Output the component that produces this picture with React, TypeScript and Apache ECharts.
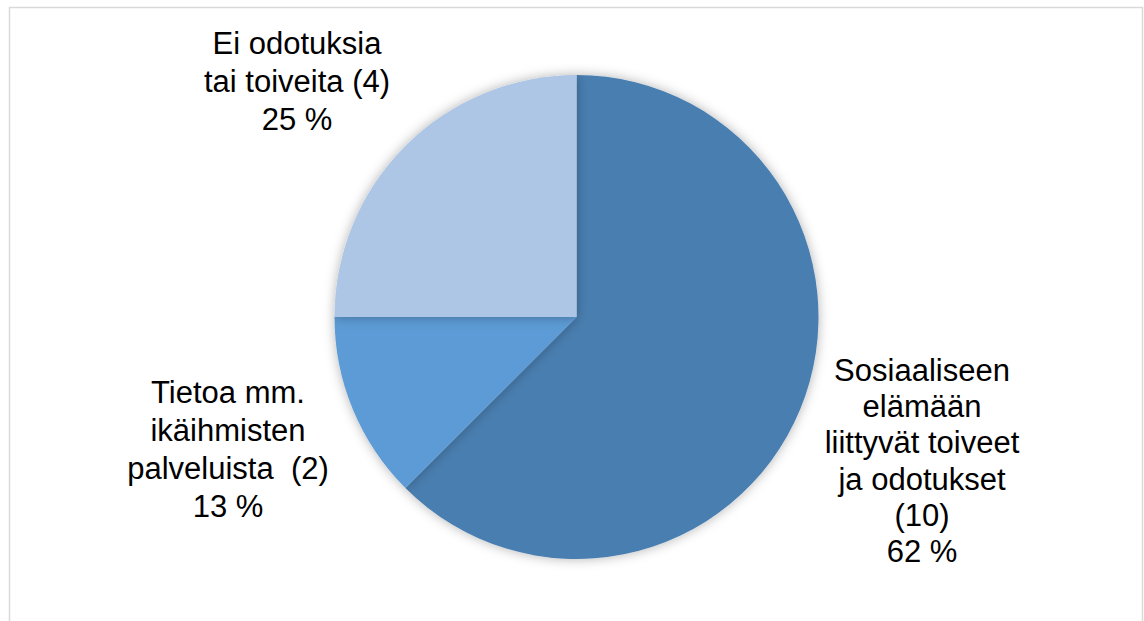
import React, { useEffect, useRef } from "react";
import * as echarts from "echarts";

const categories = [
  "Sosiaaliseen\nelämään\nliittyvät toiveet\nja odotukset\n(10)",
  "Tietoa mm.\nikäihmisten\npalveluista  (2)",
  "Ei odotuksia\ntai toiveita (4)",
];
const counts = [10, 2, 4];
const percentLabels = ["62 %", "13 %", "25 %"];
const colors = ["#4A7EB0", "#5B9BD5", "#ADC6E5"];

// label centres (layout)
const labelPos = [
  { x: 922, y: 461, lh: 36.3 },
  { x: 228, y: 449, lh: 38 },
  { x: 297, y: 81, lh: 38 },
];

export default function App() {
  const ref = useRef<HTMLDivElement>(null);
  useEffect(() => {
    if (!ref.current) return;
    const chart = echarts.init(ref.current, undefined, { renderer: "svg" });
    chart.setOption({
      animation: false,
      backgroundColor: "#ffffff",
      graphic: [
        {
          type: "rect",
          silent: true,
          z: 0,
          shape: { x: 9.5, y: 7.5, width: 1133, height: 700 },
          style: { fill: "none", stroke: "#d9d9d9", lineWidth: 1.5 },
        },
      ],
      series: [
        {
          type: "pie",
          center: [576.5, 317],
          radius: [0, 242],
          startAngle: 90,
          clockwise: true,
          avoidLabelOverlap: false,
          data: categories.map((name, i) => ({
            name,
            value: counts[i],
            itemStyle: { color: colors[i] },
            label: {
              lineHeight: labelPos[i].lh,
              formatter: () => `${name}\n${percentLabels[i]}`,
            },
          })),
          itemStyle: {
            borderWidth: 0,
            shadowBlur: 12,
            shadowColor: "rgba(0,0,0,0.3)",
          },
          label: {
            show: true,
            position: "outside",
            color: "#000000",
            fontFamily: "Liberation Sans, Arial, sans-serif",
            fontSize: 31,
            align: "center",
          },
          labelLine: { show: false },
          labelLayout: (params: any) => {
            const p = labelPos[params.dataIndex];
            return { x: p.x, y: p.y, align: "center", verticalAlign: "middle" };
          },
          emphasis: { disabled: true },
        },
      ],
    });
    return () => chart.dispose();
  }, []);
  return (
    <div
      ref={ref}
      style={{ position: "absolute", left: 0, top: 0, width: 1144, height: 621 }}
    />
  );
}
